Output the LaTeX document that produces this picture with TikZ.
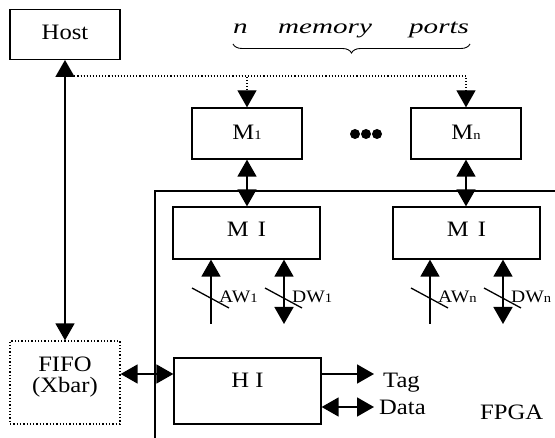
\documentclass[tikz,border=0pt]{standalone}
\usepackage{fontspec}
\setmainfont{Liberation Serif}[FakeStretch=1.12]
\newfontfamily\widefont{Liberation Serif}[FakeStretch=1.42]
\usetikzlibrary{arrows.meta,decorations.pathreplacing}
\newcommand{\smallsub}[1]{{\fontsize{13}{13}\selectfont #1}}
\begin{document}
\begin{tikzpicture}[x=1pt,y=-1pt,
  box/.style={draw, line width=1.3pt, inner sep=0pt, minimum width=110pt, anchor=base, font=\fontsize{22}{24}\selectfont},
  txt/.style={inner sep=0pt, font=\fontsize{22}{24}\selectfont},
  lbl/.style={inner sep=0pt, anchor=base west, font=\fontsize{17.5}{18}\selectfont},
  arr/.style={line width=1.7pt, -{Triangle[width=19pt,length=17pt]}},
  dbl/.style={line width=1.7pt, {Triangle[width=19pt,length=17pt]}-{Triangle[width=19pt,length=17pt]}},
  slash/.style={line width=1.3pt},
  dotline/.style={line width=1.1pt, dotted, -{Triangle[width=19pt,length=17pt]}}
]
\useasboundingbox (0,0) rectangle (555,438);

% FPGA boundary
\coordinate (fpgaA) at (155,438);
\coordinate (fpgaB) at (555,191);
\draw[line width=1.5pt] (fpgaA) |- (fpgaB);
\node[txt, anchor=base west] (fpga) at (480,420) {FPGA};

% boxes
\node[box, text height=30.7pt, text depth=19.3pt] (host) at (65,40) {Host};
\node[box, text height=32pt, text depth=19pt] (m1) at (247,140) {M\smallsub{1}};
\node[box, text height=32pt, text depth=19pt] (mn) at (466,140) {M\smallsub{n}};
\node[box, minimum width=147pt, text height=30pt, text depth=22pt] (mi1) at (246.5,237) {M\hspace{9pt}I};
\node[box, minimum width=147pt, text height=30pt, text depth=22pt] (mi2) at (466.5,237) {M\hspace{9pt}I};
\node[box, minimum width=147pt, text height=30pt, text depth=36pt] (hi) at (247.5,388) {H I};
\node[draw, dotted, line width=1.3pt, inner sep=0pt, minimum width=110pt, minimum height=83pt] (fifo) at (65,382.5) {};
\node[txt, anchor=base] (fifoA) at (65,372) {FIFO};
\node[txt, anchor=base] (fifoB) at (65,393) {(Xbar)};

% brace and title
\node[inner sep=0pt, anchor=base west, font=\widefont\itshape\fontsize{20.5}{22}\selectfont] (ports) at (233,34)
  {\makebox[45pt][l]{n}\makebox[131pt][l]{memory}ports};
\draw[decorate, decoration={brace, amplitude=9pt, mirror}, line width=0.9pt] (233,44) -- (470,44);

% dots
\fill (355,134) circle[radius=5pt];
\fill (366,134) circle[radius=5pt];
\fill (377,134) circle[radius=5pt];

% host links
\draw[dbl] (host.south) -- (fifo.north);
\coordinate (j) at (65,76);
\draw[dotline] (j) -| (m1.north);
\draw[dotline] (j) -| (mn.north);

% memory to MI
\draw[dbl] (m1.south) -- (m1.south |- mi1.north);
\draw[dbl] (mn.south) -- (mn.south |- mi2.north);

% AW / DW
\coordinate (aw1) at (211,324);
\coordinate (dw1) at (284,324);
\coordinate (aw2) at (430,324);
\coordinate (dw2) at (503,324);
\draw[arr] (aw1) -- (aw1 |- mi1.south);
\draw[dbl] (dw1) -- (dw1 |- mi1.south);
\draw[arr] (aw2) -- (aw2 |- mi2.south);
\draw[dbl] (dw2) -- (dw2 |- mi2.south);
\foreach \p in {aw1,dw1,aw2,dw2}{
  \draw[slash] ([shift={(-19,-36)}]\p) -- ([shift={(18,-16)}]\p);
}
\node[lbl] (aw1l) at ([shift={(8,-21)}]aw1) {AW\smallsub{1}};
\node[lbl] (dw1l) at ([shift={(8,-21)}]dw1) {DW\smallsub{1}};
\node[lbl] (aw2l) at ([shift={(8,-21)}]aw2) {AW\smallsub{n}};
\node[lbl] (dw2l) at ([shift={(8,-21)}]dw2) {DW\smallsub{n}};

% HI links
\coordinate (tagend) at (374,374);
\coordinate (dataend) at (374,407);
\draw[dbl] (fifo.east |- tagend) -- (hi.west |- tagend);
\draw[arr] (hi.east |- tagend) -- (tagend);
\draw[dbl] (hi.east |- dataend) -- (dataend);
\node[txt, anchor=base west] (tag) at (383,388) {Tag};
\node[txt, anchor=base west] (data) at (379,415) {Data};
\end{tikzpicture}
\end{document}
